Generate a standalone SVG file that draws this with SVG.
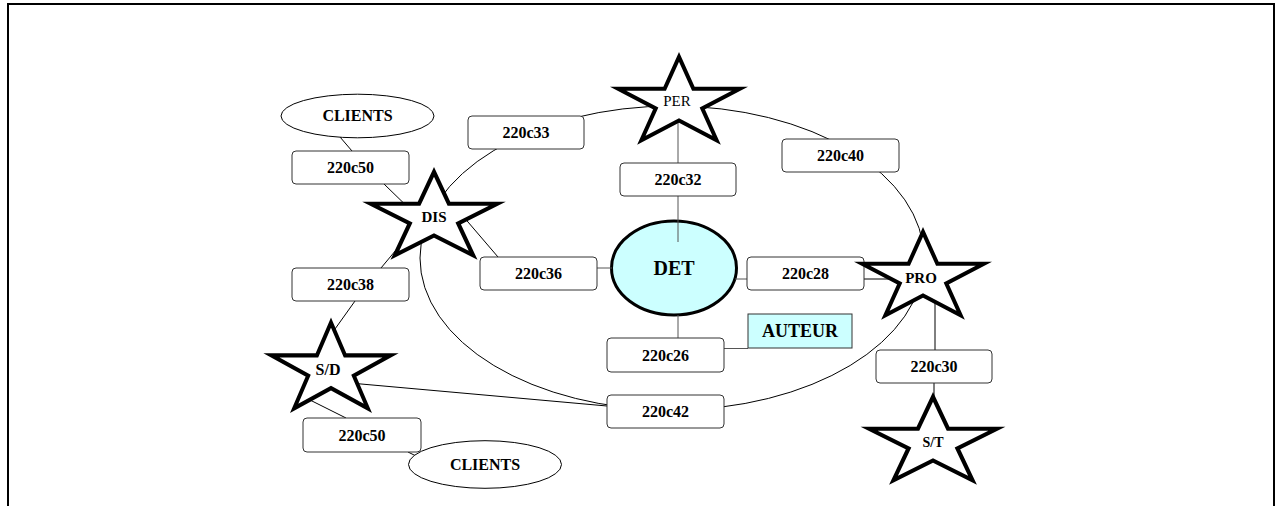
<svg xmlns="http://www.w3.org/2000/svg" width="1277" height="506" viewBox="0 0 1277 506">
<style>
  .frame { fill: none; stroke: #000; stroke-width: 2; }
  .box { fill: #fff; stroke: #333; stroke-width: 1; }
  .lbl { font-family: "Liberation Serif", "Times New Roman", serif; font-weight: bold; font-size: 16px; fill: #000; text-anchor: middle; }
  .ell { fill: #fff; stroke: #000; stroke-width: 1; }
  .star { fill: #fff; stroke: #000; stroke-width: 4; stroke-linejoin: miter; stroke-miterlimit: 10; }
  .conn { fill: none; stroke: #000; stroke-width: 1; }
  .gray { stroke: #555; }
</style>
<defs>
  <polygon id="starShape" points="0,-46.08 14.37,-14.24 60.87,-14.24 23.25,5.44 37.62,37.28 0,17.6 -37.62,37.28 -23.25,5.44 -60.87,-14.24 -14.37,-14.24"/>
</defs>
<rect width="1277" height="506" fill="#fff"/>
<path class="frame" d="M8,506 V4 H1274 V506"/>

<g id="node-DET">
  <ellipse cx="674" cy="268" rx="62.5" ry="47" fill="#ccffff" stroke="#000" stroke-width="3"/>
  <text class="lbl" x="674" y="275" style="font-size:20px">DET</text>
</g>

<g id="connectors">
  <ellipse class="conn" cx="672" cy="258" rx="252" ry="152"/>
  <line class="conn" x1="340" y1="137" x2="352" y2="151"/>
  <line class="conn" x1="384" y1="184" x2="418" y2="217"/>
  <line class="conn" x1="381" y1="268" x2="406" y2="238"/>
  <line class="conn" x1="355" y1="301" x2="330" y2="336"/>
  <line class="conn" x1="346" y1="418" x2="302" y2="396"/>
  <line class="conn" x1="408" y1="452" x2="416" y2="456"/>
  <line class="conn" x1="350" y1="383" x2="607" y2="406"/>
  <line class="conn" x1="462" y1="215" x2="498" y2="257"/>
  <line class="conn gray" x1="597" y1="268" x2="612" y2="268"/>
  <line class="conn gray" x1="735" y1="279" x2="747" y2="279"/>
  <line class="conn" x1="864" y1="279" x2="895" y2="279"/>
  <line class="conn gray" x1="678" y1="115" x2="678" y2="163"/>
  <line class="conn gray" x1="678" y1="196" x2="678" y2="242"/>
  <line class="conn gray" x1="678" y1="315" x2="678" y2="338"/>
  <line class="conn gray" x1="724" y1="348.5" x2="748" y2="348.5"/>
  <line class="conn" x1="935" y1="300" x2="935" y2="350"/>
  <line class="conn" x1="934" y1="383" x2="934" y2="410"/>
</g>

<g id="node-220c33"><rect class="box" x="468" y="116" width="116" height="33" rx="4"/><text class="lbl" x="526" y="138">220c33</text></g>
<g id="node-220c32"><rect class="box" x="620" y="163" width="116" height="33" rx="4"/><text class="lbl" x="678" y="185">220c32</text></g>
<g id="node-220c50a"><rect class="box" x="292" y="151" width="117" height="33" rx="4"/><text class="lbl" x="350.5" y="173">220c50</text></g>
<g id="node-220c38"><rect class="box" x="292" y="268" width="117" height="33" rx="4"/><text class="lbl" x="350.5" y="290">220c38</text></g>
<g id="node-220c36"><rect class="box" x="480" y="257" width="117" height="33" rx="4"/><text class="lbl" x="538.5" y="279">220c36</text></g>
<g id="node-220c28"><rect class="box" x="747" y="257" width="117" height="33" rx="4"/><text class="lbl" x="805.5" y="279">220c28</text></g>
<g id="node-220c26"><rect class="box" x="607" y="338" width="117" height="34" rx="4"/><text class="lbl" x="665.5" y="361">220c26</text></g>
<g id="node-220c30"><rect class="box" x="876" y="350" width="116" height="33" rx="4"/><text class="lbl" x="934" y="372">220c30</text></g>
<g id="node-220c42"><rect class="box" x="607" y="395" width="117" height="33" rx="4"/><text class="lbl" x="665.5" y="417">220c42</text></g>
<g id="node-220c40"><rect class="box" x="782" y="139" width="117" height="33" rx="4"/><text class="lbl" x="840.5" y="161">220c40</text></g>
<g id="node-220c50b"><rect class="box" x="303" y="418" width="118" height="34" rx="4"/><text class="lbl" x="362" y="441">220c50</text></g>

<g id="node-AUTEUR"><rect x="748" y="314" width="104" height="34" fill="#ccffff" stroke="#333" stroke-width="1"/><text class="lbl" x="800" y="337" style="font-size:18px">AUTEUR</text></g>

<g id="node-CLIENTSa"><ellipse class="ell" cx="357.5" cy="116" rx="76.5" ry="21.8"/><text class="lbl" x="357.5" y="121">CLIENTS</text></g>
<g id="node-CLIENTSb"><ellipse class="ell" cx="485" cy="464.5" rx="76.5" ry="23.8"/><text class="lbl" x="485" y="470">CLIENTS</text></g>

<g id="node-PER"><use href="#starShape" class="star" transform="translate(679,103)"/><text x="677" y="106" style="font-family:'Liberation Serif','Times New Roman',serif;font-size:15px;text-anchor:middle">PER</text></g>
<g id="node-DIS"><use href="#starShape" class="star" transform="translate(434,218) scale(1.04,1)"/><text class="lbl" x="434" y="222" style="font-size:15px">DIS</text></g>
<g id="node-PRO"><use href="#starShape" class="star" transform="translate(923,278)"/><text class="lbl" x="921" y="283" style="font-size:15px">PRO</text></g>
<g id="node-SD"><use href="#starShape" class="star" transform="translate(331,370) scale(0.98,1.03)"/><text class="lbl" x="328" y="375" style="font-size:16px">S/D</text></g>
<g id="node-ST"><use href="#starShape" class="star" transform="translate(933,443) scale(1.05,1)"/><text class="lbl" x="933" y="447" style="font-size:14px">S/T</text></g>
</svg>
